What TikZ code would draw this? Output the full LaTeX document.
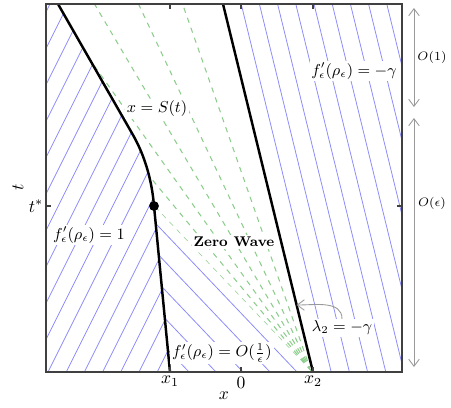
\documentclass[tikz,border=0pt]{standalone}
\usepackage{xcolor}
\usepackage{tikz}
\usetikzlibrary{arrows.meta,calc}
\definecolor{hatchblue}{RGB}{140,140,250}
\definecolor{fangreen}{RGB}{140,205,140}
\tikzset{
  shockline/.style={line width=1.4pt, black},
  hatchline/.style={hatchblue, line width=0.45pt},
  fanline/.style={fangreen, dashed, line width=0.6pt},
  axisbox/.style={draw=black!75, line width=0.9pt},
  tickmark/.style={black!75, line width=0.7pt},
  ticklbl/.style={inner sep=1pt},
  orderarrow/.style={{Straight Barb[length=4pt,width=6pt]}-{Straight Barb[length=4pt,width=6pt]}, gray!80, line width=0.5pt},
  pointarrow/.style={-{Straight Barb[length=4pt,width=6pt]}, gray!80, line width=0.5pt},
  regionlbl/.style={fill=white, inner sep=1pt, font=\small},
  orderlbl/.style={font=\scriptsize, inner sep=1pt}
}

\begin{document}
\begin{tikzpicture}[x=0.02cm,y=0.02cm]
\useasboundingbox (0,0) rectangle (451,407);
% frame and key points
\coordinate (bl) at (46,35);
\coordinate (tl) at (46,403);
\coordinate (tr) at (402,403);
\coordinate (br) at (402,35);
\coordinate (shocktop) at (58,403);
\coordinate (bend) at (133,272);
\coordinate (tstar) at (154,201);
\coordinate (x1) at (170,35);
\coordinate (zero) at (241,35);
\coordinate (x2top) at (223,403);
\coordinate (x2) at (313,35);
\coordinate (apex) at (311,36);

% left state, f' = 1
\begin{scope}
  \clip (bl) -- (tl) -- (shocktop) -- (bend) .. controls (145,251) and (152,226) .. (tstar) -- (x1) -- cycle;
  \foreach \k in {-11,...,7}
    \draw[hatchline] ({48+18.2*(\k)},35) -- ++(200,400);
\end{scope}

% right state, f' = -gamma
\begin{scope}
  \clip (x2top) -- (tr) -- (br) -- (x2) -- cycle;
  \foreach \k in {1,...,10}
    \draw[hatchline] ({223+18.2*\k},403) -- ++(90,-368);
\end{scope}

% middle state, O(1/eps)
\begin{scope}
  \clip (x1) -- (tstar) -- (apex) -- cycle;
  \foreach \k in {0,...,4}
    \draw[hatchline] ({297-27*\k},35) -- ++(-314,330);
\end{scope}

% zero wave fan
\begin{scope}
  \clip (tstar) -- (apex) -- (x2top) -- (shocktop) -- (bend) .. controls (145,251) and (152,226) .. (tstar);
  \foreach \s in {0.35,0.47,0.59,0.71,0.83}
    \draw[fanline] (apex) -- ++({-400*\s},400);
  \draw[fanline] (apex) -- (tstar);
\end{scope}

% shocks
\draw[shockline] (shocktop) -- (bend) .. controls (145,251) and (152,226) .. (tstar) -- (x1);
\draw[shockline] (x2top) -- (x2);
\fill (tstar) circle (2.8pt);

% axes
\draw[axisbox] (bl) rectangle (tr);
\foreach \c in {x1,zero,x2} {
  \draw[tickmark] (\c) -- ++(0,5);
  \draw[tickmark] (\c |- tr) -- ++(0,-5);
}
\draw[tickmark] (bl |- tstar) -- ++(5,0);
\draw[tickmark] (br |- tstar) -- ++(-5,0);
\node[ticklbl] (x1lbl) at (170,26) {$x_1$};
\node[ticklbl] (zerolbl) at (241,24) {$0$};
\node[ticklbl] (x2lbl) at (313,26) {$x_2$};
\node[ticklbl] (tstarlbl) at (36,201) {$t^*$};
\node[ticklbl] (xlbl) at (224,11) {$x$};
\node[ticklbl, rotate=90] (tlbl) at (18,220) {$t$};

% labels
\node[regionlbl] (shocklbl) at (157,298) {$x = S(t)$};
\node[regionlbl] (rightlbl) at (354,336) {$f_\epsilon'(\rho_\epsilon) = -\gamma$};
\node[regionlbl] (leftlbl) at (89,172) {$f_\epsilon'(\rho_\epsilon) = 1$};
\node[regionlbl, font=\footnotesize\bfseries] (wavelbl) at (234,165) {Zero Wave};
\node[regionlbl] (midlbl) at (222,54) {$f_\epsilon'(\rho_\epsilon) = O(\frac{1}{\epsilon})$};
\node[regionlbl] (lam) at (342,79) {$\lambda_2 = -\gamma$};
\coordinate (hit) at ($(x2top)!0.818!(x2)$);
\draw[pointarrow] (lam.north) to[out=90,in=0] (hit);

% orders of time
\coordinate (o1top) at (414,399);
\coordinate (o1bot) at (414,300);
\coordinate (oetop) at (414,289);
\coordinate (oebot) at (414,40);
\draw[orderarrow] (o1top) -- (o1bot);
\draw[orderarrow] (oetop) -- (oebot);
\node[orderlbl] (o1lbl) at (432,350) {$O(1)$};
\node[orderlbl] (oelbl) at (432,204) {$O(\epsilon)$};
\end{tikzpicture}
\end{document}
